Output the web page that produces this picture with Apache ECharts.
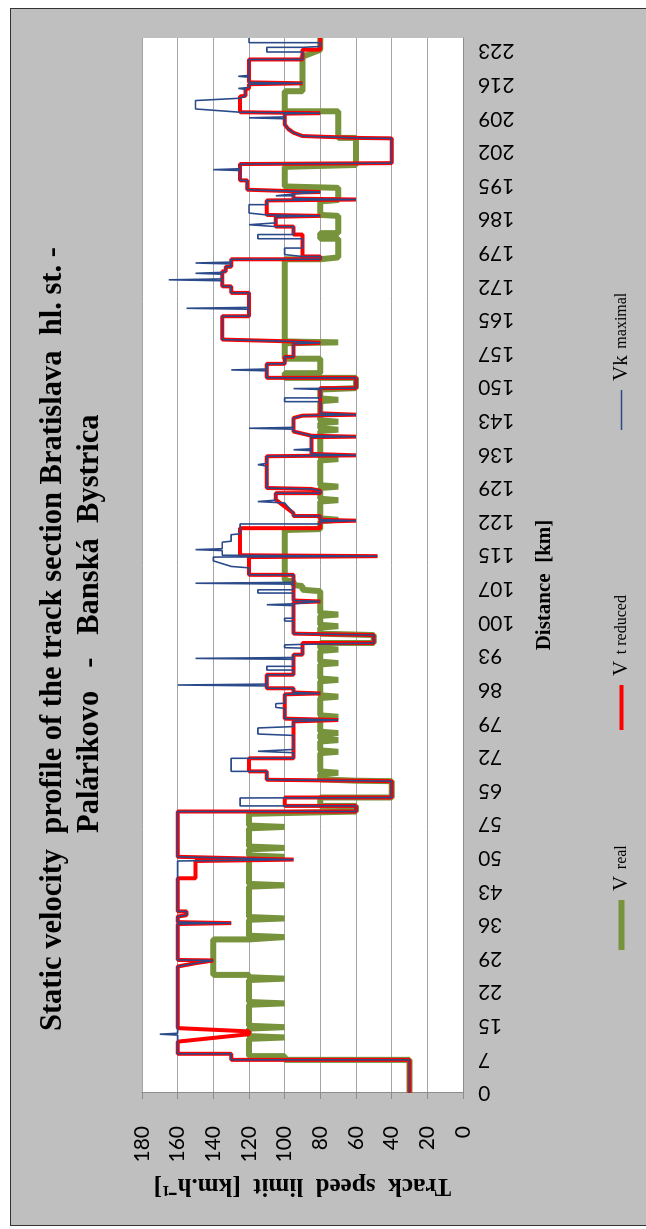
<!DOCTYPE html>
<html>
<head>
<meta charset="utf-8">
<script src="https://cdn.jsdelivr.net/npm/echarts@6/dist/echarts.min.js"></script>
<style>
  html, body { margin: 0; padding: 0; background: #fff; width: 646px; height: 1229px; overflow: hidden; }
  /* the chart is laid out landscape and turned a quarter turn to stand upright on the page */
  #sheet { position: absolute; left: 0; top: 0; width: 1229px; height: 646px;
           transform-origin: 0 0; transform: translateY(1229px) rotate(-90deg); }
  #frame { position: absolute; left: 3px; top: 10px; width: 1216px; height: 660px;
           background: #bfbfbf; border: 1.5px solid #333; }
  #chart { position: absolute; left: 0; top: 0; width: 1229px; height: 646px; }
</style>
</head>
<body>
<div id="sheet"><div id="frame"></div><div id="chart"></div></div>
<script>
// distance tick labels [km], one every 7.2 km along the line
const DIST_LABELS = ['0','7','15','22','29','36','43','50','57','65','72','79','86','93','100','107',
  '115','122','129','136','143','150','157','165','172','179','186','195','202','209','216','223'];
const DIST_STEP = 7.2;
const DIST_MAX = 226;

// speed axis [km/h]
const SPEED_MIN = 0, SPEED_MAX = 180, SPEED_STEP = 20;

// V real: [km, km/h]
const V_REAL = [
  [0,30],[7.1,30],[7.1,100],[7.9,100],[7.9,120],
  [11.6,120],[11.9,100],[12.2,120],[13.8,120],[14.1,100],[14.4,120],[18.9,120],[19.2,100],[19.5,120],
  [24.2,120],[24.5,100],[24.8,120],[25.3,120],[25.3,140],[32.9,140],[32.9,120],[33.1,120],[33.4,100],[33.7,120],
  [37.1,120],[37.4,100],[37.7,120],[44.2,120],[44.5,100],[44.8,120],[50.3,120],[50.6,100],[50.9,120],
  [52.2,120],[52.5,100],[52.8,120],[56.7,120],[57.0,100],[57.3,120],[59.8,120],[60.3,60],[61.5,60],[61.5,80],
  [63.3,80],[63.3,40],[66.8,40],[66.9,60],[67.2,80],
  [68.3,80],[68.6,70],[68.9,80],[72.8,80],[73.1,70],[73.4,80],[75.3,80],[75.6,70],[75.9,80],
  [76.8,80],[77.1,70],[77.4,80],[80.3,80],[80.6,70],[80.9,80],[84.6,80],[84.9,70],[85.2,80],
  [88.2,80],[88.5,70],[88.8,80],[91.8,80],[92.1,70],[92.4,80],[94.7,80],[95.0,70],[95.3,80],
  [96.4,80],[96.4,50],[98.1,50],[98.4,80],[99.7,80],[100.0,70],[100.3,80],[102.2,80],[102.5,70],[102.8,80],
  [107.5,80],[107.8,90],[108.6,90],[108.8,95],[109.6,95],[109.8,100],
  [120.6,100],[120.8,80],[122.5,80],[122.8,70],[123.1,80],[126.7,80],[127.0,70],[127.3,80],
  [129.6,80],[129.9,70],[130.2,80],[135.5,80],[135.8,70],[136.1,80],[141.8,80],[142.1,70],[142.4,80],
  [143.5,80],[143.8,70],[144.1,80],[148.2,80],[148.5,70],[148.8,80],[150.7,80],[151.0,60],[153.2,60],
  [153.2,100],[154.2,100],[154.2,80],[157.3,80],[157.3,100],[160.6,100],[160.8,70],[161.0,100],
  [178.6,100],[178.6,80],[179.0,80],[179.0,70],[183.0,70],[183.0,80],[184.2,80],[184.2,70],[187.9,70],
  [188.1,80],[191.0,80],[191.3,70],[193.9,70],[194.2,100],[198.4,100],[198.8,60],[204.6,60],[204.6,70],
  [210.3,70],[210.3,100],[214.6,100],[214.6,90],[222.0,90],[223.5,80],[226,80]
];

// V t reduced: [km, km/h]
const V_REDUCED = [
  [0,30],[7.1,30],[7.1,130],[8.4,130],[8.4,160],
  [11.0,160],[12.6,120],[13.2,120],[13.9,160],
  [27.1,160],[27.8,150],[28.4,140],[28.5,160],
  [36.2,160],[36.4,130],[36.6,160],[37.8,160],[38.1,155],[38.9,155],[38.9,160],
  [46.0,160],[46.0,150],[49.7,150],[50.0,95],[50.6,160],
  [60.3,160],[60.3,60],[61.5,60],[61.5,100],[63.3,100],[63.3,40],
  [66.8,40],[66.9,60],[67.1,110],[68.9,110],[68.9,120],[71.7,120],[71.7,95],
  [79.6,95],[79.9,70],[80.2,100],[85.4,100],[85.6,80],[85.8,95],[86.7,95],[86.7,110],[89.6,110],[89.6,95],
  [93.9,95],[93.9,90],[96.4,90],[96.4,50],[98.1,50],[98.4,95],[105.1,95],[105.3,80],[105.5,95],[111.0,95],[111.0,120],
  [114.8,120],[115.0,48],[115.2,125],[121.0,125],[121.0,80],[122.4,80],[122.6,60],[122.8,80],[123.6,80],[123.6,95],
  [124.2,95],[127.1,105],[128.5,105],[128.5,80],[129.0,80],[129.4,85],[129.6,110],
  [136.4,110],[136.6,60],[136.9,85],[140.5,85],[140.6,60],[140.8,85],[141.7,95],[144.6,95],[145.1,90],[145.3,60],
  [145.6,60],[145.6,80],[151.0,80],[151.0,60],[153.2,60],[153.2,110],[156.2,110],[156.2,100],[157.7,100],[157.7,95],
  [160.5,95],[160.7,80],[161.0,95],[161.4,95],[161.4,135],
  [166.4,135],[166.4,120],[171.4,120],[171.4,130],[172.8,130],[172.8,135],[176.0,135],[176.0,133],[177.0,133],
  [177.0,130],[178.6,130],[178.6,80],[179.2,80],[179.2,90],[183.9,90],[183.9,95],[185.6,95],[185.6,105],
  [187.7,105],[187.9,80],[188.1,110],
  [191.2,110],[191.4,60],[191.6,95],[192.9,95],[193.0,80],[193.3,80],[193.5,121],[195.5,121],[195.5,125],
  [199.0,125],[199.2,40],[204.5,40],[204.6,60],[205.0,90],[205.7,95],[206.5,98],[207.5,100],[209.8,100],
  [209.9,80],[210.1,125],[213.5,125],[213.6,122],[215.0,122],[215.2,120],[216.1,120],[216.3,90],[216.5,120],
  [221.4,120],[221.4,90],[223.5,90],[223.5,80],[226,80]
];

// Vk maximal: [km, km/h]
const V_MAXIMAL = [
  [0,30],[7.1,30],[7.1,130],[8.4,130],[8.4,160],
  [12.4,160],[12.6,170],[12.8,160],
  [27.1,160],[27.8,150],[28.4,140],[28.5,160],
  [36.2,160],[36.4,130],[36.6,160],[37.8,160],[38.1,155],[38.9,155],[38.9,160],
  [49.7,160],[50.0,95],[50.6,160],
  [60.3,160],[60.3,60],[61.5,60],[61.5,125],[63.2,125],[63.3,40],
  [66.8,40],[66.9,60],[67.1,110],[68.9,110],[68.9,130],[71.7,130],[71.7,95],
  [72.9,95],[73.2,115],[73.6,95],[76.6,95],[76.9,115],[78.2,115],[78.5,95],
  [79.6,95],[79.9,70],[80.2,100],[82.4,100],[82.6,105],[83.4,105],[83.5,100],[85.4,100],[85.6,80],[85.8,95],
  [86.7,95],[86.7,110],[87.2,110],[87.4,160],[87.6,110],[89.6,110],[89.6,95],
  [90.6,95],[90.6,110],[91.4,110],[91.4,95],[92.9,95],[93.1,150],[93.3,95],[93.9,95],[93.9,90],
  [95.3,90],[95.4,100],[96.0,100],[96.1,90],[96.4,90],[96.4,50],[98.1,50],[98.4,95],
  [101.1,95],[101.1,100],[101.7,100],[101.7,95],[104.4,95],[104.6,110],[104.8,95],[105.1,95],[105.3,80],[105.5,95],
  [107.1,95],[107.1,115],[107.8,115],[107.8,95],[109.0,95],[109.2,150],[109.4,95],[111.0,95],[111.0,120],
  [112.5,120],[112.8,130],[114.0,140],[114.8,140],[115.0,48],[115.2,135],[116.2,135],[116.4,150],[116.6,135],
  [118.0,135],[118.2,130],[119.6,130],[119.8,125],[121.9,125],[121.9,80],[122.4,80],[122.6,60],[122.8,80],
  [123.6,80],[123.6,95],[124.2,95],[126.4,100],[126.7,115],[127.0,105],[128.5,105],[128.5,80],[129.0,80],
  [129.4,85],[129.6,110],
  [134.3,110],[134.6,115],[134.9,110],[136.4,110],[136.6,60],[136.9,85],[137.6,85],[137.8,95],[138.0,85],
  [140.5,85],[140.6,60],[140.8,85],[141.7,95],[142.2,95],[142.4,120],[142.6,95],[144.6,95],[145.1,90],[145.3,60],
  [145.6,60],[145.6,80],[148.1,80],[148.1,100],[148.9,100],[148.9,80],[150.7,80],[150.9,95],[151.0,60],
  [153.2,60],[153.2,110],[154.7,110],[154.9,130],[155.1,110],[156.2,110],[156.2,100],[157.7,100],[157.7,95],
  [160.5,95],[160.7,80],[161.0,95],[161.4,95],[161.4,135],
  [166.4,135],[166.4,120],[167.9,120],[168.1,155],[168.3,120],[171.4,120],[171.4,130],[172.8,130],[172.8,135],
  [174.0,135],[174.2,165],[174.4,135],[175.4,135],[175.6,150],[175.8,135],[176.0,135],[176.0,133],[177.0,133],
  [177.0,130],[177.6,130],[177.8,150],[178.0,130],[178.6,130],[178.6,80],[179.2,80],[179.2,90],[179.6,90],
  [179.6,100],[181.0,100],[181.0,90],[183.0,90],[183.0,115],[183.9,115],[183.9,95],[185.6,95],[185.6,105],
  [186.0,105],[186.0,120],[186.4,120],[186.4,105],[187.7,105],[187.9,80],[188.1,110],[188.5,110],[188.5,120],
  [190.3,120],[190.3,110],
  [191.2,110],[191.4,60],[191.6,95],[192.2,95],[192.2,105],[192.6,105],[192.6,95],[192.9,95],[193.0,80],
  [193.3,80],[193.5,121],[195.5,121],[195.5,125],[197.6,125],[197.8,140],[198.0,125],[199.0,125],[199.2,40],
  [204.5,40],[204.6,60],[205.0,90],[205.7,95],[206.5,98],[207.5,100],[208.7,100],[208.9,120],[209.1,100],
  [209.8,100],[209.9,80],[210.1,125],[210.4,125],[210.8,150],[212.6,150],[213.1,125],[213.5,125],[213.6,122],
  [215.0,122],[215.2,126],[215.4,120],[216.1,120],[216.3,90],[216.5,120],[217.6,120],[217.8,126],[218.0,120],
  [221.4,120],[221.4,90],[223.0,90],[223.0,110],[224.0,110],[224.0,90],[224.2,80],[225.0,80],[225.0,120],[226,120]
];

const TITLE_LINES = [
  'Static velocity  profile of the track section Bratislava  hl. st. -',
  'Palárikovo   -   Banská  Bystrica'
];

const SERIF = "'Liberation Serif', 'Times New Roman', serif";
const SANS = "Lato, 'Liberation Sans', sans-serif";
const TITLE_SIZE = 30.5;

const GREEN = '#77933c', RED = '#ff0000', BLUE = '#2a4a8a';

const chart = echarts.init(document.getElementById('chart'), null, { renderer: 'canvas' });

// width of a string in the title font, used to centre each title line
const measureCtx = document.createElement('canvas').getContext('2d');
function titleWidth(text) {
  measureCtx.font = 'bold ' + TITLE_SIZE + "px 'Liberation Serif'";
  return measureCtx.measureText(text).width;
}
function titleLine(text, centre, top) {
  return {
    text: text, left: Math.round(centre - titleWidth(text) / 2), top: top, padding: 0,
    textStyle: { fontFamily: SERIF, fontWeight: 'bold', fontSize: TITLE_SIZE, lineHeight: 34, color: '#000' }
  };
}

function distLabel(v) {
  const k = Math.round(v / DIST_STEP);
  if (Math.abs(v - k * DIST_STEP) > 0.01) return '';
  return DIST_LABELS[k] !== undefined ? DIST_LABELS[k] : '';
}

const legendRich = {
  big: { fontFamily: SERIF, fontSize: 21, color: '#000' },
  small: { fontFamily: SERIF, fontSize: 16, color: '#000' }
};
function legendText(name) {
  const i = name.indexOf(' ');
  return '{big|' + name.slice(0, i) + '}  {small|' + name.slice(i + 1) + '}';
}
// one legend block per series, placed along the bottom of the sheet
function legendAt(name, left, width, thickness) {
  return {
    data: [name], left: left, top: 606, orient: 'horizontal',
    icon: 'rect', itemWidth: width, itemHeight: thickness, itemGap: 0,
    formatter: legendText,
    textStyle: { rich: legendRich, padding: [0, 0, 0, 4] },
    selectedMode: false
  };
}

chart.setOption({
  animation: false,
  backgroundColor: 'transparent',
  title: [
    titleLine(TITLE_LINES[0], 590, 36),
    titleLine(TITLE_LINES[1], 605, 73)
  ],
  legend: [
    legendAt('V real', 274, 50, 6),
    legendAt('V t reduced', 494, 45, 4),
    legendAt('Vk maximal', 794, 40, 1.5)
  ],
  grid: {
    left: 136, right: 38, top: 142, bottom: 183,
    show: true, backgroundColor: '#ffffff', borderWidth: 0
  },
  xAxis: {
    type: 'value', min: 0, max: DIST_MAX, interval: DIST_STEP,
    axisLine: { show: true, lineStyle: { color: '#8c8c8c', width: 1 } },
    axisTick: { show: false },
    splitLine: { show: false },
    axisLabel: {
      rotate: 90, margin: 15, fontFamily: SANS, fontSize: 21, color: '#000',
      showMaxLabel: false, formatter: distLabel
    }
  },
  yAxis: {
    type: 'value', min: SPEED_MIN, max: SPEED_MAX, interval: SPEED_STEP,
    name: 'Track  speed  limit  [km.h⁻¹]', nameLocation: 'middle', nameRotate: 90, nameGap: 66,
    nameTextStyle: { fontFamily: SERIF, fontWeight: 'bold', fontSize: 25, color: '#000' },
    axisLine: { show: true, lineStyle: { color: '#8c8c8c', width: 1 } },
    axisTick: { show: true, length: 6, lineStyle: { color: '#8c8c8c' } },
    splitLine: { lineStyle: { color: '#a4a4a4', width: 1 } },
    axisLabel: { margin: 33, fontFamily: SANS, fontSize: 21, color: '#000' }
  },
  graphic: [{
    type: 'text', x: 644, y: 545,
    style: {
      text: 'Distance  [km]', font: "bold 21px 'Liberation Serif'", fill: '#000',
      align: 'center', verticalAlign: 'middle', textAlign: 'center', textVerticalAlign: 'middle'
    }
  }],
  series: [
    {
      name: 'V real', type: 'line', data: V_REAL, showSymbol: false, symbol: 'none', z: 2,
      lineStyle: { color: GREEN, width: 6 }, itemStyle: { color: GREEN }
    },
    {
      name: 'V t reduced', type: 'line', data: V_REDUCED, showSymbol: false, symbol: 'none', z: 3,
      lineStyle: { color: RED, width: 4 }, itemStyle: { color: RED }
    },
    {
      name: 'Vk maximal', type: 'line', data: V_MAXIMAL, showSymbol: false, symbol: 'none', z: 4,
      lineStyle: { color: BLUE, width: 1.6 }, itemStyle: { color: BLUE }
    }
  ]
});
</script>
</body>
</html>
